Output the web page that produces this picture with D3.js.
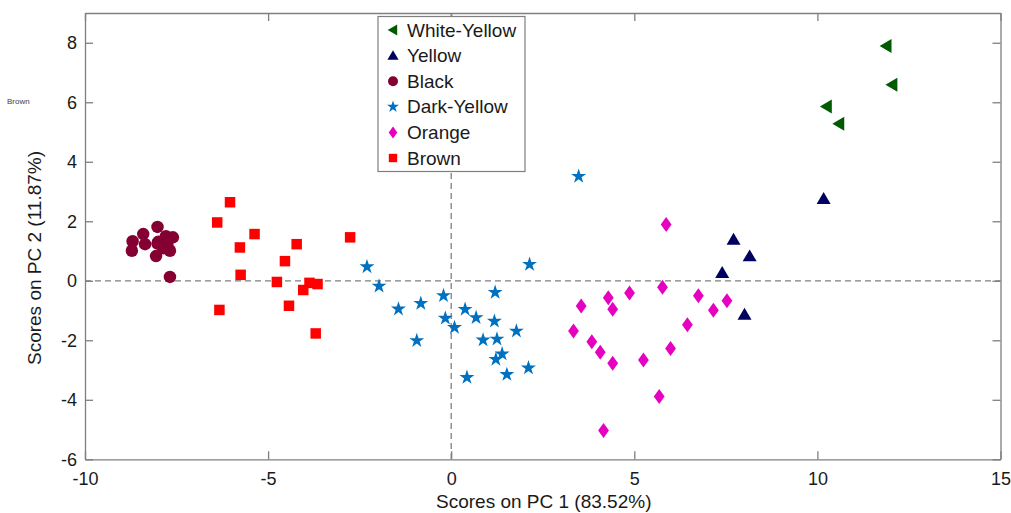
<!DOCTYPE html>
<html>
<head>
<meta charset="utf-8">
<script src="https://cdn.jsdelivr.net/npm/d3@7"></script>
<style>
  body { margin: 0; background: white; overflow: hidden; }
  text { font-family: "Liberation Sans", Arial, sans-serif; }
</style>
</head>
<body>
<div id="chart"></div>
<script>
// scores, [PC1, PC2]
var whiteYellow = [[11.88, 7.89], [12.04, 6.59], [10.25, 5.86], [10.59, 5.28]];
var yellow = [[10.17, 2.76], [7.71, 1.39], [8.15, 0.83], [7.40, 0.27], [8.01, -1.13]];
var black = [[-8.72, 1.01], [-8.70, 1.33], [-8.41, 1.57], [-8.36, 1.23], [-8.02, 1.81],
  [-8.06, 0.83], [-8.00, 1.31], [-7.79, 1.50], [-7.60, 1.46], [-7.68, 1.01],
  [-7.86, 1.09], [-8.02, 1.25], [-7.75, 1.20], [-7.68, 0.13]];
var darkYellow = [[3.48, 3.51], [-2.30, 0.47], [2.14, 0.55], [-1.97, -0.18], [-0.21, -0.50],
  [1.20, -0.39], [-1.44, -0.95], [-0.83, -0.76], [-0.16, -1.26], [0.38, -0.96],
  [0.68, -1.24], [0.09, -1.57], [1.18, -1.36], [1.78, -1.69], [-0.94, -2.01],
  [0.87, -1.99], [1.25, -1.96], [1.39, -2.46], [1.22, -2.64], [2.11, -2.93],
  [1.52, -3.15], [0.43, -3.25]];
var orange = [[5.87, 1.89], [5.77, -0.22], [4.87, -0.41], [4.29, -0.57], [4.41, -0.96],
  [3.55, -0.85], [6.75, -0.50], [7.53, -0.67], [7.16, -0.99], [6.45, -1.48],
  [3.34, -1.69], [3.84, -2.05], [4.07, -2.40], [4.41, -2.77], [5.25, -2.66],
  [5.99, -2.28], [5.68, -3.89], [4.16, -5.03]];
var brown = [[-6.04, 2.64], [-6.39, 1.96], [-5.37, 1.57], [-5.77, 1.12], [-5.75, 0.20],
  [-6.33, -0.98], [-4.22, 1.23], [-4.54, 0.66], [-4.76, -0.04], [-4.43, -0.84],
  [-4.04, -0.31], [-3.87, -0.07], [-3.65, -0.11], [-3.70, -1.77], [-2.76, 1.46]];

var groupNames = ["White-Yellow", "Yellow", "Black", "Dark-Yellow", "Orange", "Brown"];
var groupColors = ["#005a00", "#00005e", "#850032", "#0070c0", "#e600bf", "#ff0000"];
var groupShapes = ["left", "triangle", "circle", "star", "diamond", "square"];
var xTicks = [-10, -5, 0, 5, 10, 15];
var yTicks = [-6, -4, -2, 0, 2, 4, 6, 8];

var groups = [whiteYellow, yellow, black, darkYellow, orange, brown];

var w = 1011;
var h = 513;
var margin = {top: 13, right: 10.5, bottom: 53.7, left: 85};
var innerWidth = w - margin.left - margin.right;
var innerHeight = h - margin.top - margin.bottom;

var svg = d3.select("#chart")
  .append("svg")
    .attr("width", w)
    .attr("height", h)
    .style("display", "block");

var xScale = d3.scaleLinear()
    .domain([-10, 15])
    .range([0, innerWidth]);
var yScale = d3.scaleLinear()
    .domain([-6, 9])
    .range([innerHeight, 0]);

// marker path for a given shape, s = rough size in px
function markerPath(shape, s) {
  if (shape == "circle") return d3.symbol(d3.symbolCircle, Math.PI * (s / 2) * (s / 2))();
  if (shape == "square") return d3.symbol(d3.symbolSquare, s * s)();
  if (shape == "star") return d3.symbol(d3.symbolStar, s * s * 0.38)();
  if (shape == "triangle") {
    var a = s / 2;
    return "M0," + (-a * 0.95) + "L" + a + "," + (a * 0.75) + "L" + (-a) + "," + (a * 0.75) + "Z";
  }
  if (shape == "left") {
    var a = s / 2;
    return "M" + (-a * 0.95) + ",0L" + (a * 0.75) + "," + (-a) + "L" + (a * 0.75) + "," + a + "Z";
  }
  if (shape == "diamond") {
    var a = s / 2;
    return "M0," + (-a) + "L" + (a * 0.72) + ",0L0," + a + "L" + (-a * 0.72) + ",0Z";
  }
}
var markerSize = {left: 14, triangle: 14, circle: 12.5, star: 13.5, diamond: 15, square: 10.5};

var plot = svg.append("g")
    .attr("transform", `translate(${margin.left}, ${margin.top})`);

// zero lines
plot.append("line")
    .attr("x1", 0).attr("x2", innerWidth)
    .attr("y1", yScale(0)).attr("y2", yScale(0))
    .attr("stroke", "#7f7f7f").attr("stroke-width", 1.3)
    .attr("stroke-dasharray", "6,4");
plot.append("line")
    .attr("x1", xScale(0)).attr("x2", xScale(0))
    .attr("y1", 0).attr("y2", innerHeight)
    .attr("stroke", "#7f7f7f").attr("stroke-width", 1.3)
    .attr("stroke-dasharray", "6,4");

// points
groups.forEach(function(data, gi) {
  plot.append("g").selectAll("path")
    .data(data)
    .enter().append("path")
      .attr("transform", d => `translate(${xScale(d[0])}, ${yScale(d[1])})`)
      .attr("d", markerPath(groupShapes[gi], markerSize[groupShapes[gi]]))
      .attr("fill", groupColors[gi]);
});

// axes, ticks pointing in, plain hyphen for minus like the original
var fmt = d => String(d);
var xAxis = d3.axisBottom(xScale).tickValues(xTicks).tickFormat(fmt).tickSize(-8).tickSizeOuter(0).tickPadding(13);
var yAxis = d3.axisLeft(yScale).tickValues(yTicks).tickFormat(fmt).tickSize(-8).tickSizeOuter(0).tickPadding(8);
var xTop = d3.axisTop(xScale).tickValues(xTicks).tickSize(-8).tickSizeOuter(0);
var yRight = d3.axisRight(yScale).tickValues(yTicks).tickSize(-8).tickSizeOuter(0);

function styleAxis(g) {
  g.attr("font-size", 18).attr("font-family", "'Liberation Sans', Arial, sans-serif");
  g.selectAll("path, line").attr("stroke", "#7f7f7f").attr("stroke-width", 1.3);
  g.selectAll("text").attr("fill", "#1a1a1a");
}

plot.append("g").attr("class", "xAxis")
    .attr("transform", `translate(0, ${innerHeight})`)
    .call(xAxis).call(styleAxis);
plot.append("g").attr("class", "yAxis")
    .call(yAxis).call(styleAxis);
// top and right: box with ticks only
plot.append("g").call(xTop).call(styleAxis)
    .selectAll("text").remove();
plot.append("g").attr("transform", `translate(${innerWidth}, 0)`)
    .call(yRight).call(styleAxis)
    .selectAll("text").remove();

// axis titles
svg.append("text")
    .attr("x", margin.left + innerWidth / 2 + 1)
    .attr("y", 508)
    .style("text-anchor", "middle")
    .style("font-size", "19px")
    .attr("fill", "#1a1a1a")
    .text("Scores on PC 1 (83.52%)");
svg.append("text")
    .attr("transform", "translate(41, 258) rotate(-90)")
    .style("text-anchor", "middle")
    .style("font-size", "19px")
    .attr("fill", "#1a1a1a")
    .text("Scores on PC 2 (11.87%)");

// stray label left of the axis
svg.append("text")
    .attr("x", 7).attr("y", 104)
    .style("font-size", "8px")
    .attr("fill", "#444")
    .text("Brown");

// legend
var legend = svg.append("g");
legend.append("rect")
    .attr("x", 378).attr("y", 16.5)
    .attr("width", 147).attr("height", 155)
    .attr("fill", "white")
    .attr("stroke", "#7f7f7f").attr("stroke-width", 1.2);
groupNames.forEach(function(name, i) {
  var yy = 30 + i * 25.6;
  legend.append("path")
      .attr("transform", `translate(393, ${yy})`)
      .attr("d", markerPath(groupShapes[i], markerSize[groupShapes[i]] * 0.8))
      .attr("fill", groupColors[i]);
  legend.append("text")
      .attr("x", 407).attr("y", yy)
      .attr("dy", "0.35em")
      .style("font-size", "19px")
      .attr("fill", "#1a1a1a")
      .text(name);
});
</script>
</body>
</html>
